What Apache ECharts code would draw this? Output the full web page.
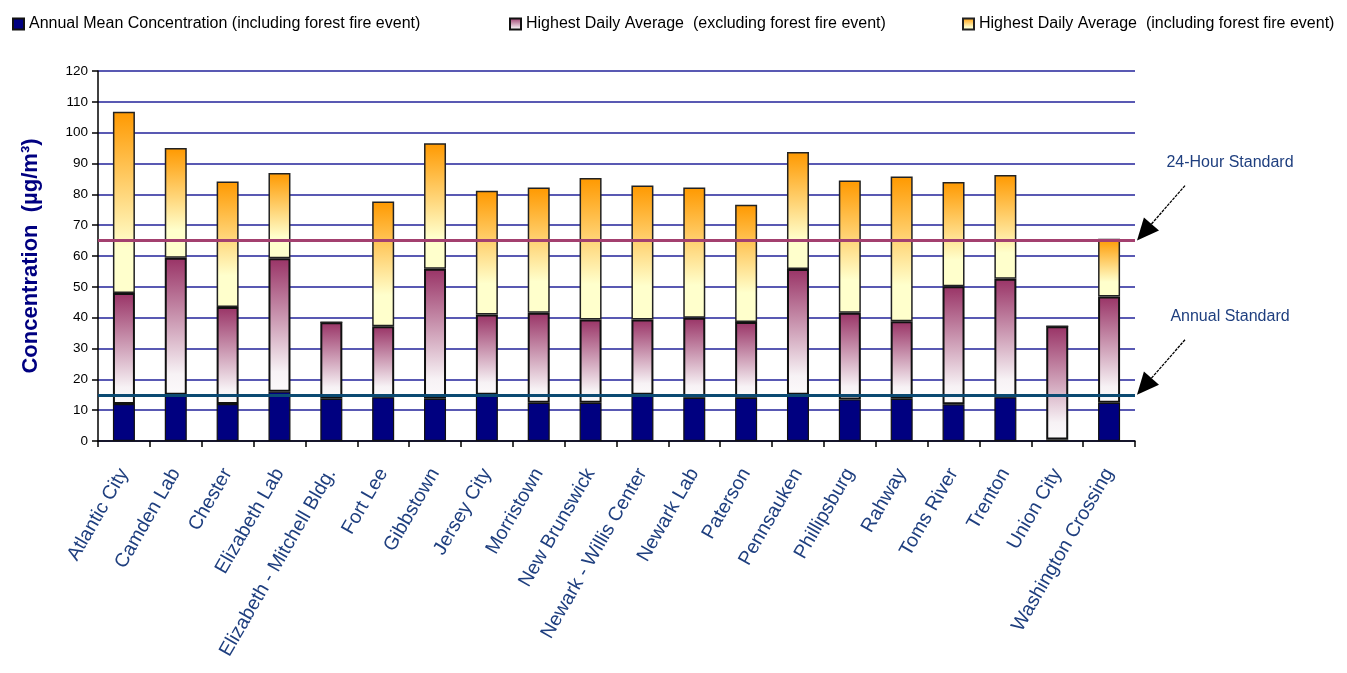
<!DOCTYPE html>
<html>
<head>
<meta charset="utf-8">
<script src="https://cdn.jsdelivr.net/npm/echarts@6/dist/echarts.min.js"></script>
<style>
  html, body { margin: 0; padding: 0; background: #ffffff; }
  #chart { width: 1347px; height: 673px; }
</style>
</head>
<body>
<div id="chart"></div>
<script>
// stations
const categories = [
  'Atlantic City', 'Camden Lab', 'Chester', 'Elizabeth Lab', 'Elizabeth - Mitchell Bldg.',
  'Fort Lee', 'Gibbstown', 'Jersey City', 'Morristown', 'New Brunswick',
  'Newark - Willis Center', 'Newark Lab', 'Paterson', 'Pennsauken', 'Phillipsburg',
  'Rahway', 'Toms River', 'Trenton', 'Union City', 'Washington Crossing'
];

// values in µg/m3
const annualMean = [12, 15, 12, 16, 13.7, 14.2, 13.7, 15, 12.4, 12.4, 15, 14, 14, 15, 13.5, 13.7, 11.9, 14.2, 0.5, 12.4];
const highDailyExcl = [48, 59.4, 43.5, 59.3, 38.5, 37.2, 55.9, 41, 41.6, 39.4, 39.4, 40, 38.6, 55.8, 41.6, 38.8, 50.2, 52.6, 37.2, 46.9];
const highDailyIncl = [106.8, 95, 84.2, 86.9, 38.5, 77.7, 96.6, 81.2, 82.2, 85.3, 82.9, 82.2, 76.6, 93.7, 84.5, 85.8, 84, 86.3, 37.2, 65.6];

// standards
const standard24h = 65;
const standardAnnual = 15;

const yTicks = { min: 0, max: 120, interval: 10 };

const names = [
  'Annual Mean Concentration (including forest fire event)',
  'Highest Daily Average  (excluding forest fire event)',
  'Highest Daily Average  (including forest fire event)'
];

// the bars are drawn as stacked pieces so each piece gets its own gradient
const round1 = v => Math.round(v * 10) / 10;
const exclPart = highDailyExcl.map((v, i) => round1(v - annualMean[i]));
const inclPart = highDailyIncl.map((v, i) => round1(v - highDailyExcl[i]));

const myChart = echarts.init(document.getElementById('chart'));

const orangeFill = new echarts.graphic.LinearGradient(0, 0, 0, 1, [
  { offset: 0, color: '#FF9900' },
  { offset: 0.75, color: '#FFFFCC' },
  { offset: 1, color: '#FFFFCC' }
]);
const maroonFill = new echarts.graphic.LinearGradient(0, 0, 0, 1, [
  { offset: 0, color: '#993366' },
  { offset: 0.85, color: '#F7F2F5' },
  { offset: 1, color: '#FCFAFB' }
]);

const FONT = 'Liberation Sans, Arial';

const legendBase = {
  top: 11,
  itemWidth: 11,
  itemHeight: 11,
  itemGap: 0,
  icon: 'rect',
  textStyle: { fontSize: 16, color: '#000000', fontFamily: FONT }
};

const option = {
  backgroundColor: '#ffffff',
  animation: false,
  legend: [
    Object.assign({ left: 7, data: [names[0]] }, legendBase),
    Object.assign({ left: 504, data: [names[1]] }, legendBase),
    Object.assign({ left: 957, data: [names[2]] }, legendBase)
  ],
  grid: {
    left: 98,
    right: 212,
    top: 71,
    bottom: 232
  },
  xAxis: {
    type: 'category',
    data: categories,
    axisLine: { lineStyle: { color: '#000000', width: 1.5 } },
    axisTick: { show: true, length: 6, lineStyle: { color: '#000000', width: 1.5 } },
    axisLabel: {
      rotate: 60,
      margin: 29,
      interval: 0,
      fontSize: 19.5,
      color: '#1F3F7F',
      fontFamily: FONT
    },
    splitLine: { show: false }
  },
  yAxis: {
    type: 'value',
    min: yTicks.min,
    max: yTicks.max,
    interval: yTicks.interval,
    name: 'Concentration  (µg/m³)',
    nameLocation: 'middle',
    nameRotate: 90,
    nameGap: 56,
    nameTextStyle: {
      fontSize: 22,
      fontWeight: 'bold',
      color: '#000080',
      fontFamily: FONT
    },
    axisLine: { show: true, lineStyle: { color: '#000000', width: 1.5 } },
    axisTick: { show: true, length: 6, lineStyle: { color: '#000000', width: 1.5 } },
    axisLabel: {
      margin: 10,
      fontSize: 13.5,
      color: '#000000',
      fontFamily: FONT
    },
    splitLine: { show: true, lineStyle: { color: '#22229A', width: 1.5 } }
  },
  series: [
    {
      name: names[0],
      type: 'bar',
      stack: 'pm',
      barWidth: 22,
      itemStyle: { color: '#000080', borderColor: '#111111', borderWidth: 1.2 },
      data: annualMean
    },
    {
      name: names[1],
      type: 'bar',
      stack: 'pm',
      barWidth: 22,
      itemStyle: { color: maroonFill, borderColor: '#111111', borderWidth: 2 },
      data: exclPart
    },
    {
      name: names[2],
      type: 'bar',
      stack: 'pm',
      barWidth: 22,
      itemStyle: { color: orangeFill, borderColor: '#222222', borderWidth: 1.5 },
      data: inclPart,
      markLine: {
        silent: true,
        symbol: 'none',
        label: { show: false },
        data: [
          { yAxis: standard24h, lineStyle: { color: '#A3406F', width: 3, type: 'solid' } },
          { yAxis: standardAnnual, lineStyle: { color: '#0B4A72', width: 3, type: 'solid' } }
        ]
      }
    }
  ]
};

myChart.setOption(option);

// annotation arrows pointing at the right end of each standard line
function arrow(tip, label) {
  const dx = 48, dy = -55;
  const len = Math.sqrt(dx * dx + dy * dy);
  const ux = dx / len, uy = dy / len;
  const headLen = 22, headW = 10;
  const bx = tip[0] + ux * headLen, by = tip[1] + uy * headLen;
  return [
    {
      type: 'line',
      shape: { x1: tip[0] + dx, y1: tip[1] + dy, x2: bx, y2: by },
      style: { stroke: '#000000', lineWidth: 1.3, lineDash: [3, 1] }
    },
    {
      type: 'polygon',
      shape: {
        points: [
          [tip[0], tip[1]],
          [bx - uy * headW, by + ux * headW],
          [bx + uy * headW, by - ux * headW]
        ]
      },
      style: { fill: '#000000' }
    },
    {
      type: 'text',
      x: tip[0] + 93,
      y: tip[1] + dy - 31,
      style: {
        text: label,
        fill: '#1F3F7F',
        font: '16px "Liberation Sans", Arial',
        textAlign: 'center'
      }
    }
  ];
}

const rightEdge = myChart.getWidth() - 212 + 2;
const tip24 = [rightEdge, myChart.convertToPixel({ yAxisIndex: 0 }, standard24h)];
const tipAnn = [rightEdge, myChart.convertToPixel({ yAxisIndex: 0 }, standardAnnual)];

myChart.setOption({
  graphic: arrow(tip24, '24-Hour Standard').concat(arrow(tipAnn, 'Annual Standard'))
});
</script>
</body>
</html>
